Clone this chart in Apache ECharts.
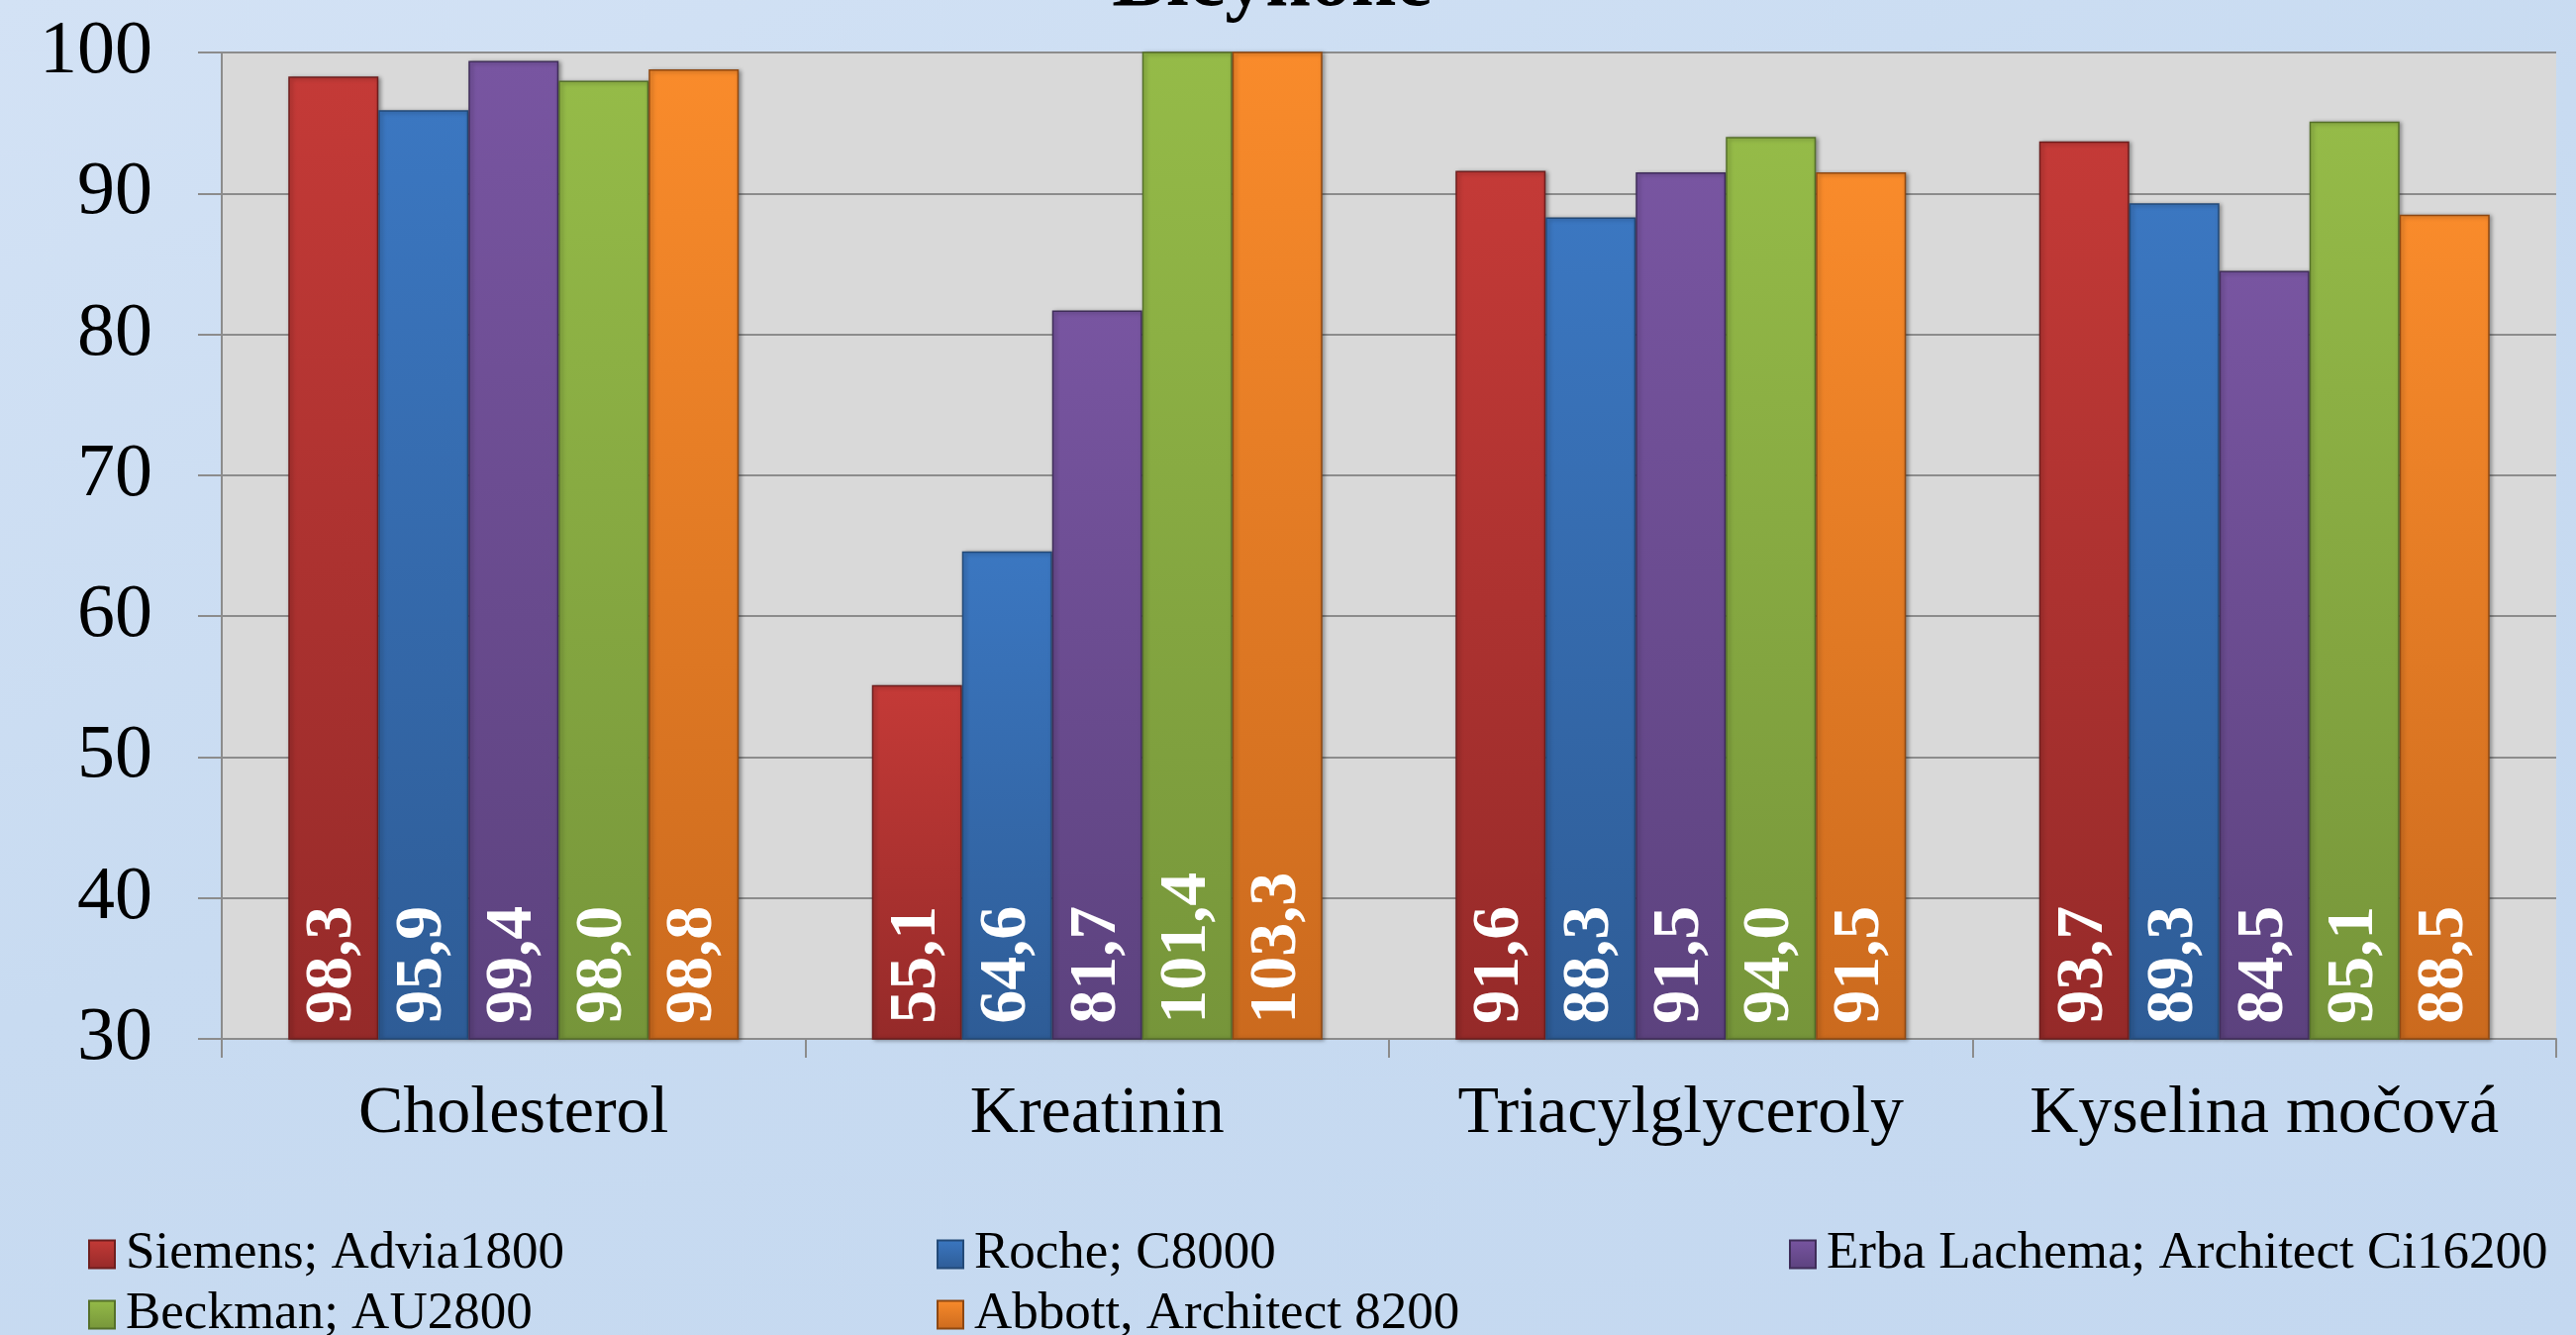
<!DOCTYPE html>
<html>
<head>
<meta charset="utf-8">
<script src="https://cdn.jsdelivr.net/npm/echarts@6/dist/echarts.min.js"></script>
<style>
  html, body {
    margin: 0;
    padding: 0;
    width: 2602px;
    height: 1348px;
    overflow: hidden;
    background: linear-gradient(160deg, #d3e2f5 0%, #c8dbf1 45%, #c4d8f0 100%);
  }
  #chart {
    width: 2602px;
    height: 1348px;
  }
</style>
</head>
<body>
<div id="chart"></div>
<script>
// data
const categories = ['Cholesterol', 'Kreatinin', 'Triacylglyceroly', 'Kyselina močová'];
const seriesNames = [
  'Siemens; Advia1800',
  'Roche; C8000',
  'Erba Lachema; Architect Ci16200',
  'Beckman; AU2800',
  'Abbott, Architect 8200'
];
const siemens = [98.3, 55.1, 91.6, 93.7];
const roche = [95.9, 64.6, 88.3, 89.3];
const erba = [99.4, 81.7, 91.5, 84.5];
const beckman = [98.0, 101.4, 94.0, 95.1];
const abbott = [98.8, 103.3, 91.5, 88.5];
const yTicks = [30, 40, 50, 60, 70, 80, 90, 100];

const allValues = [siemens, roche, erba, beckman, abbott];
// top colour, bottom colour, border
const palette = [
  ['#c43a37', '#952a29', '#6e1e1e'],
  ['#3b77c1', '#2e5c96', '#234a78'],
  ['#7855a1', '#5c427e', '#3f2d59'],
  ['#95bb48', '#76953a', '#55702a'],
  ['#f98b2b', '#cb6a1e', '#8e4812']
];

const FONT = '"Liberation Serif", "Times New Roman", serif';

const chart = echarts.init(document.getElementById('chart'));

const series = seriesNames.map((name, i) => ({
  name: name,
  type: 'bar',
  data: allValues[i],
  barWidth: 91,
  barGap: '0%',
  clip: true,
  itemStyle: {
    color: {
      type: 'linear', x: 0, y: 0, x2: 0, y2: 1,
      colorStops: [
        { offset: 0, color: palette[i][0] },
        { offset: 1, color: palette[i][1] }
      ]
    },
    borderColor: palette[i][2],
    borderWidth: 1.5,
    shadowColor: 'rgba(0,0,0,0.35)',
    shadowBlur: 4,
    shadowOffsetX: 2,
    shadowOffsetY: 1
  },
  label: {
    show: true,
    position: 'insideBottom',
    distance: 16,
    rotate: 90,
    align: 'left',
    verticalAlign: 'middle',
    color: '#fff',
    fontFamily: FONT,
    fontWeight: 'bold',
    fontSize: 68,
    formatter: p => p.value.toFixed(1).replace('.', ',')
  }
}));

const legendPos = [
  { left: 84, top: 1235 },
  { left: 941, top: 1235 },
  { left: 1802, top: 1235 },
  { left: 84, top: 1296 },
  { left: 941, top: 1296 }
];

const option = {
  backgroundColor: 'transparent',
  animation: false,
  color: palette.map(p => p[0]),
  title: {
    text: 'Bicyhone',
    left: 1280,
    textAlign: 'center',
    top: -62,
    textStyle: {
      fontFamily: FONT,
      fontWeight: 'bold',
      fontSize: 82,
      color: '#000'
    }
  },
  legend: seriesNames.map((name, i) => ({
    data: [name],
    left: legendPos[i].left,
    top: legendPos[i].top,
    icon: 'rect',
    itemWidth: 26,
    itemHeight: 28,
    textStyle: {
      fontFamily: FONT,
      fontSize: 53,
      color: '#000',
      padding: [0, 0, 0, 6]
    }
  })),
  grid: {
    left: 224,
    right: 20,
    top: 53,
    bottom: 299,
    show: true,
    backgroundColor: '#d9d9d9',
    borderWidth: 0
  },
  xAxis: {
    type: 'category',
    data: categories,
    boundaryGap: true,
    axisLine: { show: true, lineStyle: { color: '#8c8c8c', width: 2 } },
    axisTick: { show: true, interval: 0, length: 19, lineStyle: { color: '#8c8c8c', width: 2 } },
    axisLabel: {
      interval: 0,
      margin: 42,
      fontFamily: FONT,
      fontSize: 68,
      color: '#000'
    }
  },
  yAxis: {
    type: 'value',
    min: yTicks[0],
    max: yTicks[yTicks.length - 1],
    interval: 10,
    axisLine: { show: true, lineStyle: { color: '#8c8c8c', width: 2 } },
    axisTick: { show: true, length: 24, lineStyle: { color: '#8c8c8c', width: 2 } },
    splitLine: { show: true, lineStyle: { color: '#8c8c8c', width: 2 } },
    axisLabel: {
      margin: 70,
      fontFamily: FONT,
      fontSize: 76,
      color: '#000'
    }
  },
  series: series
};

chart.setOption(option);
window.addEventListener('resize', () => chart.resize());
</script>
</body>
</html>
